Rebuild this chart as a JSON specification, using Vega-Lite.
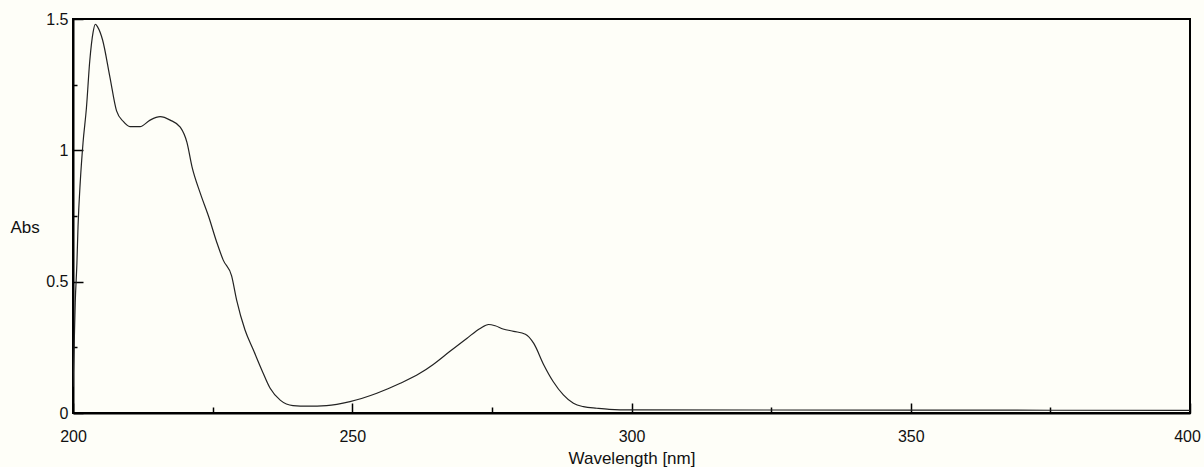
{
  "$schema": "https://vega.github.io/schema/vega-lite/v6.json",
  "width": 1117,
  "height": 394,
  "autosize": {"type": "none"},
  "padding": {"left": 73, "top": 19, "right": 14, "bottom": 54},
  "background": "#FEFEF8",
  "config": {
    "view": {"stroke": "#000", "strokeWidth": 2, "fill": "#FEFEF8"},
    "font": "Liberation Sans"
  },
  "data": {
    "values": [
      {"wl": 200.0, "abs": 0.10},
      {"wl": 200.2, "abs": 0.25},
      {"wl": 200.4, "abs": 0.42},
      {"wl": 200.7, "abs": 0.57},
      {"wl": 200.9, "abs": 0.71},
      {"wl": 201.3, "abs": 0.88},
      {"wl": 201.8, "abs": 1.03},
      {"wl": 202.4, "abs": 1.16},
      {"wl": 203.0, "abs": 1.34},
      {"wl": 203.6, "abs": 1.45},
      {"wl": 204.0, "abs": 1.48},
      {"wl": 204.4, "abs": 1.47},
      {"wl": 205.3, "abs": 1.42},
      {"wl": 206.6, "abs": 1.28},
      {"wl": 207.8, "abs": 1.15},
      {"wl": 209.0, "abs": 1.11},
      {"wl": 210.2, "abs": 1.09},
      {"wl": 212.0, "abs": 1.09},
      {"wl": 213.8, "abs": 1.115},
      {"wl": 215.6, "abs": 1.128},
      {"wl": 217.4, "abs": 1.115},
      {"wl": 219.2, "abs": 1.088},
      {"wl": 220.4, "abs": 1.03},
      {"wl": 221.3, "abs": 0.938},
      {"wl": 222.8, "abs": 0.836},
      {"wl": 224.3, "abs": 0.747},
      {"wl": 225.8, "abs": 0.646},
      {"wl": 226.9, "abs": 0.582},
      {"wl": 228.4, "abs": 0.522},
      {"wl": 229.3, "abs": 0.43},
      {"wl": 230.8, "abs": 0.316},
      {"wl": 232.3, "abs": 0.24},
      {"wl": 233.8, "abs": 0.164},
      {"wl": 235.3, "abs": 0.094},
      {"wl": 237.1, "abs": 0.049},
      {"wl": 239.4, "abs": 0.028},
      {"wl": 242.0, "abs": 0.026},
      {"wl": 245.4, "abs": 0.028},
      {"wl": 249.6, "abs": 0.043},
      {"wl": 254.4, "abs": 0.075},
      {"wl": 258.6, "abs": 0.113},
      {"wl": 262.1, "abs": 0.151},
      {"wl": 264.5, "abs": 0.185},
      {"wl": 267.5, "abs": 0.235},
      {"wl": 270.5, "abs": 0.284},
      {"wl": 272.9, "abs": 0.322},
      {"wl": 274.4, "abs": 0.337},
      {"wl": 275.6, "abs": 0.332},
      {"wl": 277.0, "abs": 0.32},
      {"wl": 278.9, "abs": 0.311},
      {"wl": 281.0, "abs": 0.30},
      {"wl": 282.5, "abs": 0.265},
      {"wl": 284.3, "abs": 0.183},
      {"wl": 286.0, "abs": 0.119},
      {"wl": 287.8, "abs": 0.069},
      {"wl": 289.6, "abs": 0.037},
      {"wl": 291.4, "abs": 0.024},
      {"wl": 293.8, "abs": 0.018},
      {"wl": 296.0, "abs": 0.014},
      {"wl": 300.0, "abs": 0.012},
      {"wl": 350.0, "abs": 0.011},
      {"wl": 400.0, "abs": 0.010}
    ]
  },
  "mark": {"type": "line", "color": "#222", "strokeWidth": 1.2, "interpolate": "monotone", "clip": true},
  "encoding": {
    "x": {
      "field": "wl",
      "type": "quantitative",
      "scale": {"domain": [200, 400], "nice": false, "zero": false},
      "axis": {
        "values": [200, 225, 250, 275, 300, 325, 350, 375, 400],
        "labelExpr": "datum.value % 50 === 0 ? format(datum.value, 'd') : ''",
        "title": "Wavelength [nm]",
        "titleFont": "Liberation Sans",
        "titleFontSize": 17,
        "titleFontWeight": "normal",
        "titleColor": "#111",
        "titlePadding": 2,
        "labelFont": "Liberation Sans",
        "labelFontSize": 16,
        "labelColor": "#111",
        "labelFlush": false,
        "labelOverlap": false,
        "labelPadding": 25,
        "labelOffset": {"condition": {"test": "datum.value === 400", "value": -3}, "value": 0},
        "domainColor": "#000",
        "domainWidth": 2,
        "tickColor": "#000",
        "tickWidth": 1.5,
        "tickSize": {"condition": {"test": "datum.value % 50 === 0", "value": -10}, "value": -6},
        "grid": false
      }
    },
    "y": {
      "field": "abs",
      "type": "quantitative",
      "scale": {"domain": [0, 1.5], "nice": false, "zero": true},
      "axis": {
        "values": [0, 0.25, 0.5, 0.75, 1, 1.25, 1.5],
        "labelExpr": "(datum.value * 2) % 1 === 0 ? format(datum.value, '~g') : ''",
        "title": "Abs",
        "titleAngle": 0,
        "titleAlign": "left",
        "titleBaseline": "middle",
        "titleX": -63,
        "titleY": 208,
        "titleFont": "Liberation Sans",
        "titleFontSize": 17,
        "titleFontWeight": "normal",
        "titleColor": "#111",
        "labelFont": "Liberation Sans",
        "labelFontSize": 16,
        "labelColor": "#111",
        "labelFlush": false,
        "labelOverlap": false,
        "labelPadding": 15,
        "labelBaseline": "middle",
        "domainColor": "#000",
        "domainWidth": 2,
        "tickColor": "#000",
        "tickWidth": 1.5,
        "tickSize": {"condition": {"test": "(datum.value * 2) % 1 === 0", "value": -10}, "value": -4},
        "grid": false
      }
    }
  }
}
